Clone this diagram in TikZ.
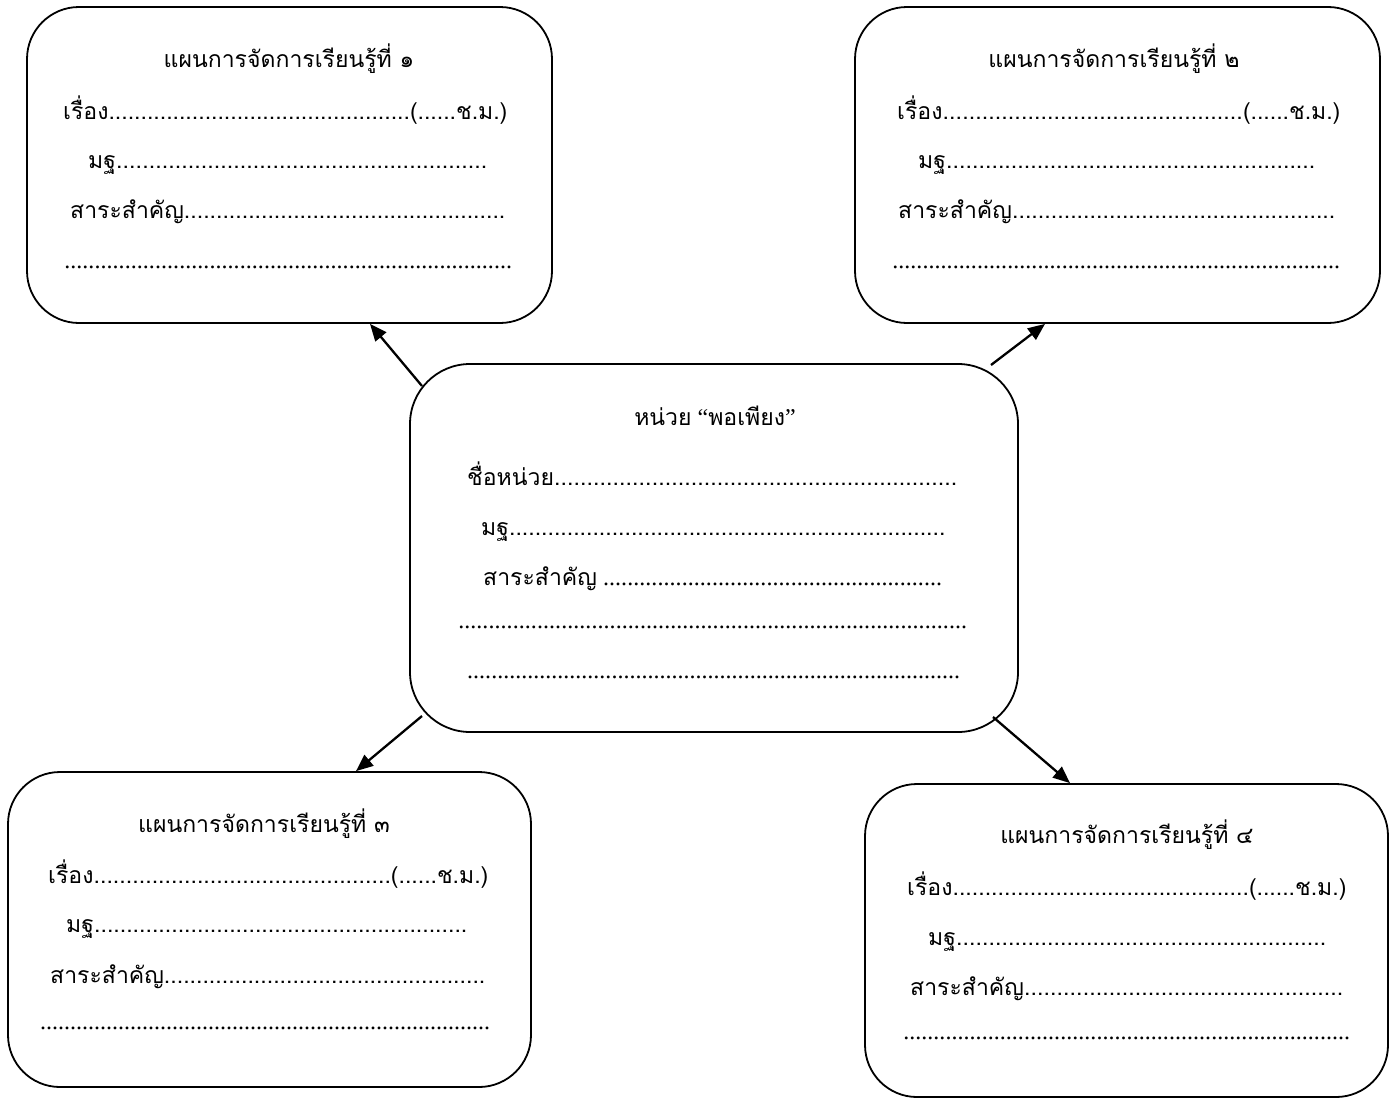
\documentclass[tikz,border=0pt]{standalone}
\usepackage{fontspec}
\setmainfont{Liberation Serif}
\newfontfamily\thf[Script=Thai,Scale=0.96]{Loma}
\usetikzlibrary{arrows.meta}
\newcommand\fl[3]{\hbox to #1{#2\xleaders\hbox{.}\hfill#3}}
\tikzset{
  box/.style={draw, line width=1.8pt, rounded corners=52pt, inner sep=0pt},
  txt/.style={anchor=base west, inner sep=0pt, font=\fontsize{24}{28}\selectfont},
  ttl/.style={anchor=base, inner sep=0pt, font=\fontsize{24}{28}\selectfont},
  arr/.style={line width=2.3pt, -{Triangle[length=17pt,width=14pt]}}
}
\begin{document}
\begin{tikzpicture}[x=1pt,y=-1pt]
\useasboundingbox (0,0) rectangle (1396,1100);
% boxes
\node[box, minimum width=525pt, minimum height=316pt] (b1) at (289.5,165) {};
\node[box, minimum width=525pt, minimum height=316pt] (b2) at (1117.5,165) {};
\node[box, minimum width=608pt, minimum height=368pt, rounded corners=60pt] (c) at (714,548) {};
\node[box, minimum width=523pt, minimum height=315pt] (b3) at (269.5,929.5) {};
\node[box, minimum width=523pt, minimum height=313pt] (b4) at (1126.5,940.5) {};
% box 1
\node[ttl] (t1) at (289,67) {\thf แผนการจัดการเรียนรู้ที่ ๑};
\node[txt] (t1a) at (63,119) {\fl{444pt}{\thf เรื่อง}{(......{\thf ช.ม.})}};
\node[txt] (t1b) at (88,168) {\fl{399pt}{\thf มฐ}{}};
\node[txt] (t1c) at (70,218) {\fl{435pt}{\thf สาระสำคัญ}{}};
\node[txt] (t1d) at (64,268) {\fl{448pt}{}{}};
% box 2
\node[ttl] (t2) at (1114,67) {\thf แผนการจัดการเรียนรู้ที่ ๒};
\node[txt] (t2a) at (897,119) {\fl{443pt}{\thf เรื่อง}{(......{\thf ช.ม.})}};
\node[txt] (t2b) at (918,168) {\fl{397pt}{\thf มฐ}{}};
\node[txt] (t2c) at (898,218) {\fl{437pt}{\thf สาระสำคัญ}{}};
\node[txt] (t2d) at (892,268) {\fl{448pt}{}{}};
% centre
\node[ttl] (tc) at (715,425) {{\thf หน่วย} “{\thf พอเพียง}”};
\node[txt] (tca) at (467,485) {\fl{490pt}{\thf ชื่อหน่วย}{}};
\node[txt] (tcb) at (481,535) {\fl{464pt}{\thf มฐ}{}};
\node[txt] (tcc) at (483,585) {\fl{459pt}{{\thf สาระสำคัญ} }{}};
\node[txt] (tcd) at (458,628) {\fl{509pt}{}{}};
\node[txt] (tce) at (467,678) {\fl{493pt}{}{}};
% box 3
\node[ttl] (t3) at (264,832) {\thf แผนการจัดการเรียนรู้ที่ ๓};
\node[txt] (t3a) at (48,883) {\fl{440pt}{\thf เรื่อง}{(......{\thf ช.ม.})}};
\node[txt] (t3b) at (66,932) {\fl{401pt}{\thf มฐ}{}};
\node[txt] (t3c) at (50,983) {\fl{435pt}{\thf สาระสำคัญ}{}};
\node[txt] (t3d) at (40,1029) {\fl{450pt}{}{}};
% box 4
\node[ttl] (t4) at (1127,843) {\thf แผนการจัดการเรียนรู้ที่ ๔};
\node[txt] (t4a) at (907,895) {\fl{439pt}{\thf เรื่อง}{(......{\thf ช.ม.})}};
\node[txt] (t4b) at (928,945) {\fl{398pt}{\thf มฐ}{}};
\node[txt] (t4c) at (910,995) {\fl{433pt}{\thf สาระสำคัญ}{}};
\node[txt] (t4d) at (903,1039) {\fl{447pt}{}{}};
% arrows
\coordinate (s1) at (422,386);
\coordinate (s2) at (991,365);
\coordinate (s3) at (422,716);
\coordinate (s4) at (993,717);
\draw[arr] (s1) -- (b1.south -| 370,0);
\draw[arr] (s2) -- (b2.south -| 1045,0);
\draw[arr] (s3) -- (b3.north -| 356,0);
\draw[arr] (s4) -- (b4.north -| 1070,0);
\end{tikzpicture}
\end{document}
